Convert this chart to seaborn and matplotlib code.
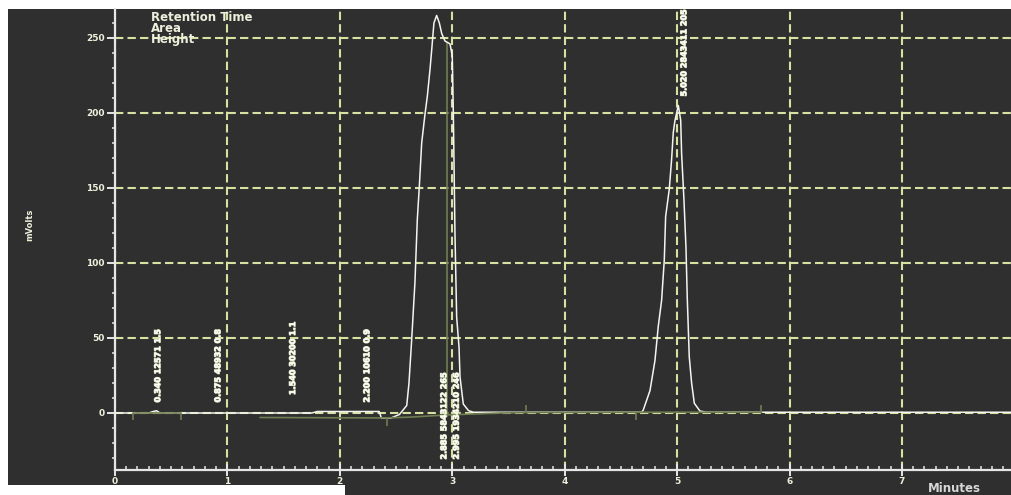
import matplotlib
matplotlib.use("Agg")
import matplotlib.pyplot as plt
import matplotlib.patheffects as pe
from matplotlib.patches import Rectangle
from matplotlib.ticker import MultipleLocator
import pandas as pd
import seaborn as sns

# ---- detector trace (minutes, mVolts) ----
trace_time = [0.00, 0.30, 0.34, 0.37, 0.40, 1.75, 1.80, 2.35, 2.37, 2.45, 2.53,
              2.595, 2.615, 2.639, 2.668, 2.689, 2.707, 2.728, 2.757, 2.778, 2.802,
              2.817, 2.837, 2.861, 2.885, 2.906, 2.935, 2.980, 3.000, 3.009, 3.024,
              3.039, 3.060, 3.069, 3.098, 3.144, 3.187, 4.685, 4.699, 4.759, 4.803,
              4.832, 4.862, 4.886, 4.898, 4.930, 4.951, 4.966, 4.981, 5.002, 5.011,
              5.032, 5.040, 5.061, 5.079, 5.090, 5.108, 5.129, 5.153, 5.203, 5.263,
              7.97]
trace_mv = [0.0, 0.0, 1.0, 1.5, 0.0, 0.0, 1.0, 1.0, -3.5, -3.5, -1.0,
            5.0, 20.0, 49.0, 87.0, 129.0, 151.0, 180.0, 199.0, 211.0, 229.0,
            242.0, 260.0, 265.0, 260.0, 253.0, 248.0, 246.0, 238.0, 202.0, 120.0,
            64.0, 44.0, 24.0, 6.0, 1.6, 0.5, 0.5, 2.0, 15.0, 35.0,
            57.5, 75.0, 102.0, 131.0, 149.0, 169.0, 187.0, 195.0, 202.0, 205.0,
            195.0, 173.0, 142.0, 110.0, 77.5, 37.5, 20.0, 6.5, 1.3, 0.5,
            0.5]

# ---- integration baseline (segment id, minutes, mVolts) ----
base_seg = [0, 0, 1, 1, 1, 1, 1, 1, 1, 1, 1]
base_time = [0.16, 0.59, 1.29, 2.42, 2.64, 2.95, 3.44, 3.66, 4.63, 5.20, 5.75]
base_mv = [0.0, 0.0, -3.0, -3.3, -2.7, -1.3, 0.0, 0.3, 0.5, 0.5, 0.5]

# peak start/stop markers on the baseline
marker_time = [0.16, 0.59, 2.42, 3.66, 4.63, 5.75]
marker_low = [-5.0, -5.0, -9.0, 0.0, -5.0, 0.0]
marker_high = [0.0, 0.0, -3.0, 5.0, 0.5, 5.0]

# drop line separating the two co-eluting peaks
split_time = 2.95
split_top = 247.0

# ---- peak table ----
peak_rt = [0.340, 0.875, 1.540, 2.200, 2.885, 2.995, 5.020]
peak_area = [12571, 48932, 30200, 10610, 5843122, 1934210, 2843411]
peak_height = [1.5, 0.8, 1.1, 0.9, 265, 246, 205]
label_base = [7, 7, 12, 7, -31, -31, 211]

x_ticks = [0, 1, 2, 3, 4, 5, 6, 7]
y_ticks = [0, 50, 100, 150, 200, 250]

BG = "#2f2f2f"
GRID = "#d9e1a2"
AXIS = "#e6e6e6"
TRACE = "#f4f4f0"
BASE = "#6f7d52"
TEXT = "#eef0dc"

sns.set_style("dark")
plt.rcParams["font.family"] = ["DejaVu Sans"]

W, H = 1011, 495
fig = plt.figure(figsize=(W / 100, H / 100), dpi=100, facecolor="white")
fig.patches.append(Rectangle((8 / W, 0), 1, (H - 9) / H, transform=fig.transFigure,
                             facecolor=BG, edgecolor="none", zorder=-2))
fig.patches.append(Rectangle((0, 0), 345 / W, 10 / H, transform=fig.transFigure,
                             facecolor="white", edgecolor="none", zorder=-1))

ax = fig.add_axes([115 / W, 25 / H, 896 / W, 461 / H])
ax.set_facecolor(BG)

trace = pd.DataFrame({"Minutes": trace_time, "mVolts": trace_mv})
base = pd.DataFrame({"seg": base_seg, "Minutes": base_time, "mVolts": base_mv})

sns.lineplot(data=trace, x="Minutes", y="mVolts", sort=False, estimator=None,
             color=TRACE, linewidth=1.1, ax=ax, zorder=3)
sns.lineplot(data=base, x="Minutes", y="mVolts", units="seg", sort=False,
             estimator=None, color=BASE, linewidth=1.2, ax=ax, zorder=4)
ax.vlines(marker_time, marker_low, marker_high, color=BASE, linewidth=1.2, zorder=4)
ax.vlines([split_time], [base_mv[4]], [split_top], color=BASE, linewidth=1.2, zorder=2)

# peak labels: retention time, area, height
for rt, area, h, yb in zip(peak_rt, peak_area, peak_height, label_base):
    ax.text(rt, yb, f"{rt:.3f} {area} {h:g}", rotation=90, ha="left", va="bottom",
            fontsize=5.8, fontweight="bold", color="white", clip_on=True, zorder=5,
            path_effects=[pe.withStroke(linewidth=0.8, foreground="#d4dcb4")])

ax.set_xlim(0, 7.97)
ax.set_ylim(-38, 269.3)
ax.set_xticks(x_ticks)
ax.set_yticks(y_ticks)
ax.xaxis.set_minor_locator(MultipleLocator(0.1))
ax.yaxis.set_minor_locator(MultipleLocator(10))

ax.grid(True, which="major", color=GRID, linestyle=(0, (4, 2)), linewidth=1.5)
ax.grid(False, which="minor")
ax.set_axisbelow(True)

for side in ("top", "right"):
    ax.spines[side].set_visible(False)
for side in ("left", "bottom"):
    ax.spines[side].set_color(AXIS)
    ax.spines[side].set_linewidth(1.6)

ax.tick_params(axis="x", which="major", direction="inout", length=8, width=1.4,
               color=AXIS, labelsize=6.5, labelcolor=TEXT, pad=1)
ax.tick_params(axis="x", which="minor", direction="in", length=3, width=1.1, color=AXIS)
ax.tick_params(axis="y", which="major", direction="out", length=6, width=1.4,
               color=AXIS, labelsize=6.5, labelcolor=TEXT, pad=1.5)
ax.tick_params(axis="y", which="minor", direction="out", length=2.5, width=1.1, color=AXIS)
ax.tick_params(bottom=True, left=True, which="both")
for lab in ax.get_xticklabels() + ax.get_yticklabels():
    lab.set_fontweight("bold")

ax.set_xlabel("")
ax.set_ylabel("")
fig.text(30 / W, 1 - 225 / H, "mVolts", rotation=90, ha="center", va="center",
         fontsize=6, fontweight="bold", color=TEXT)
fig.text(928 / W, 1 - 482 / H, "Minutes", ha="left", va="top",
         fontsize=8.5, fontweight="bold", color="#d8d8d8")

for i, line in enumerate(["Retention Time", "Area", "Height"]):
    fig.text(151 / W, 1 - (11 + 11 * i) / H, line, ha="left", va="top",
             fontsize=8.5, fontweight="bold", color=TEXT)

fig.savefig("out.png", dpi=100, facecolor="white")
